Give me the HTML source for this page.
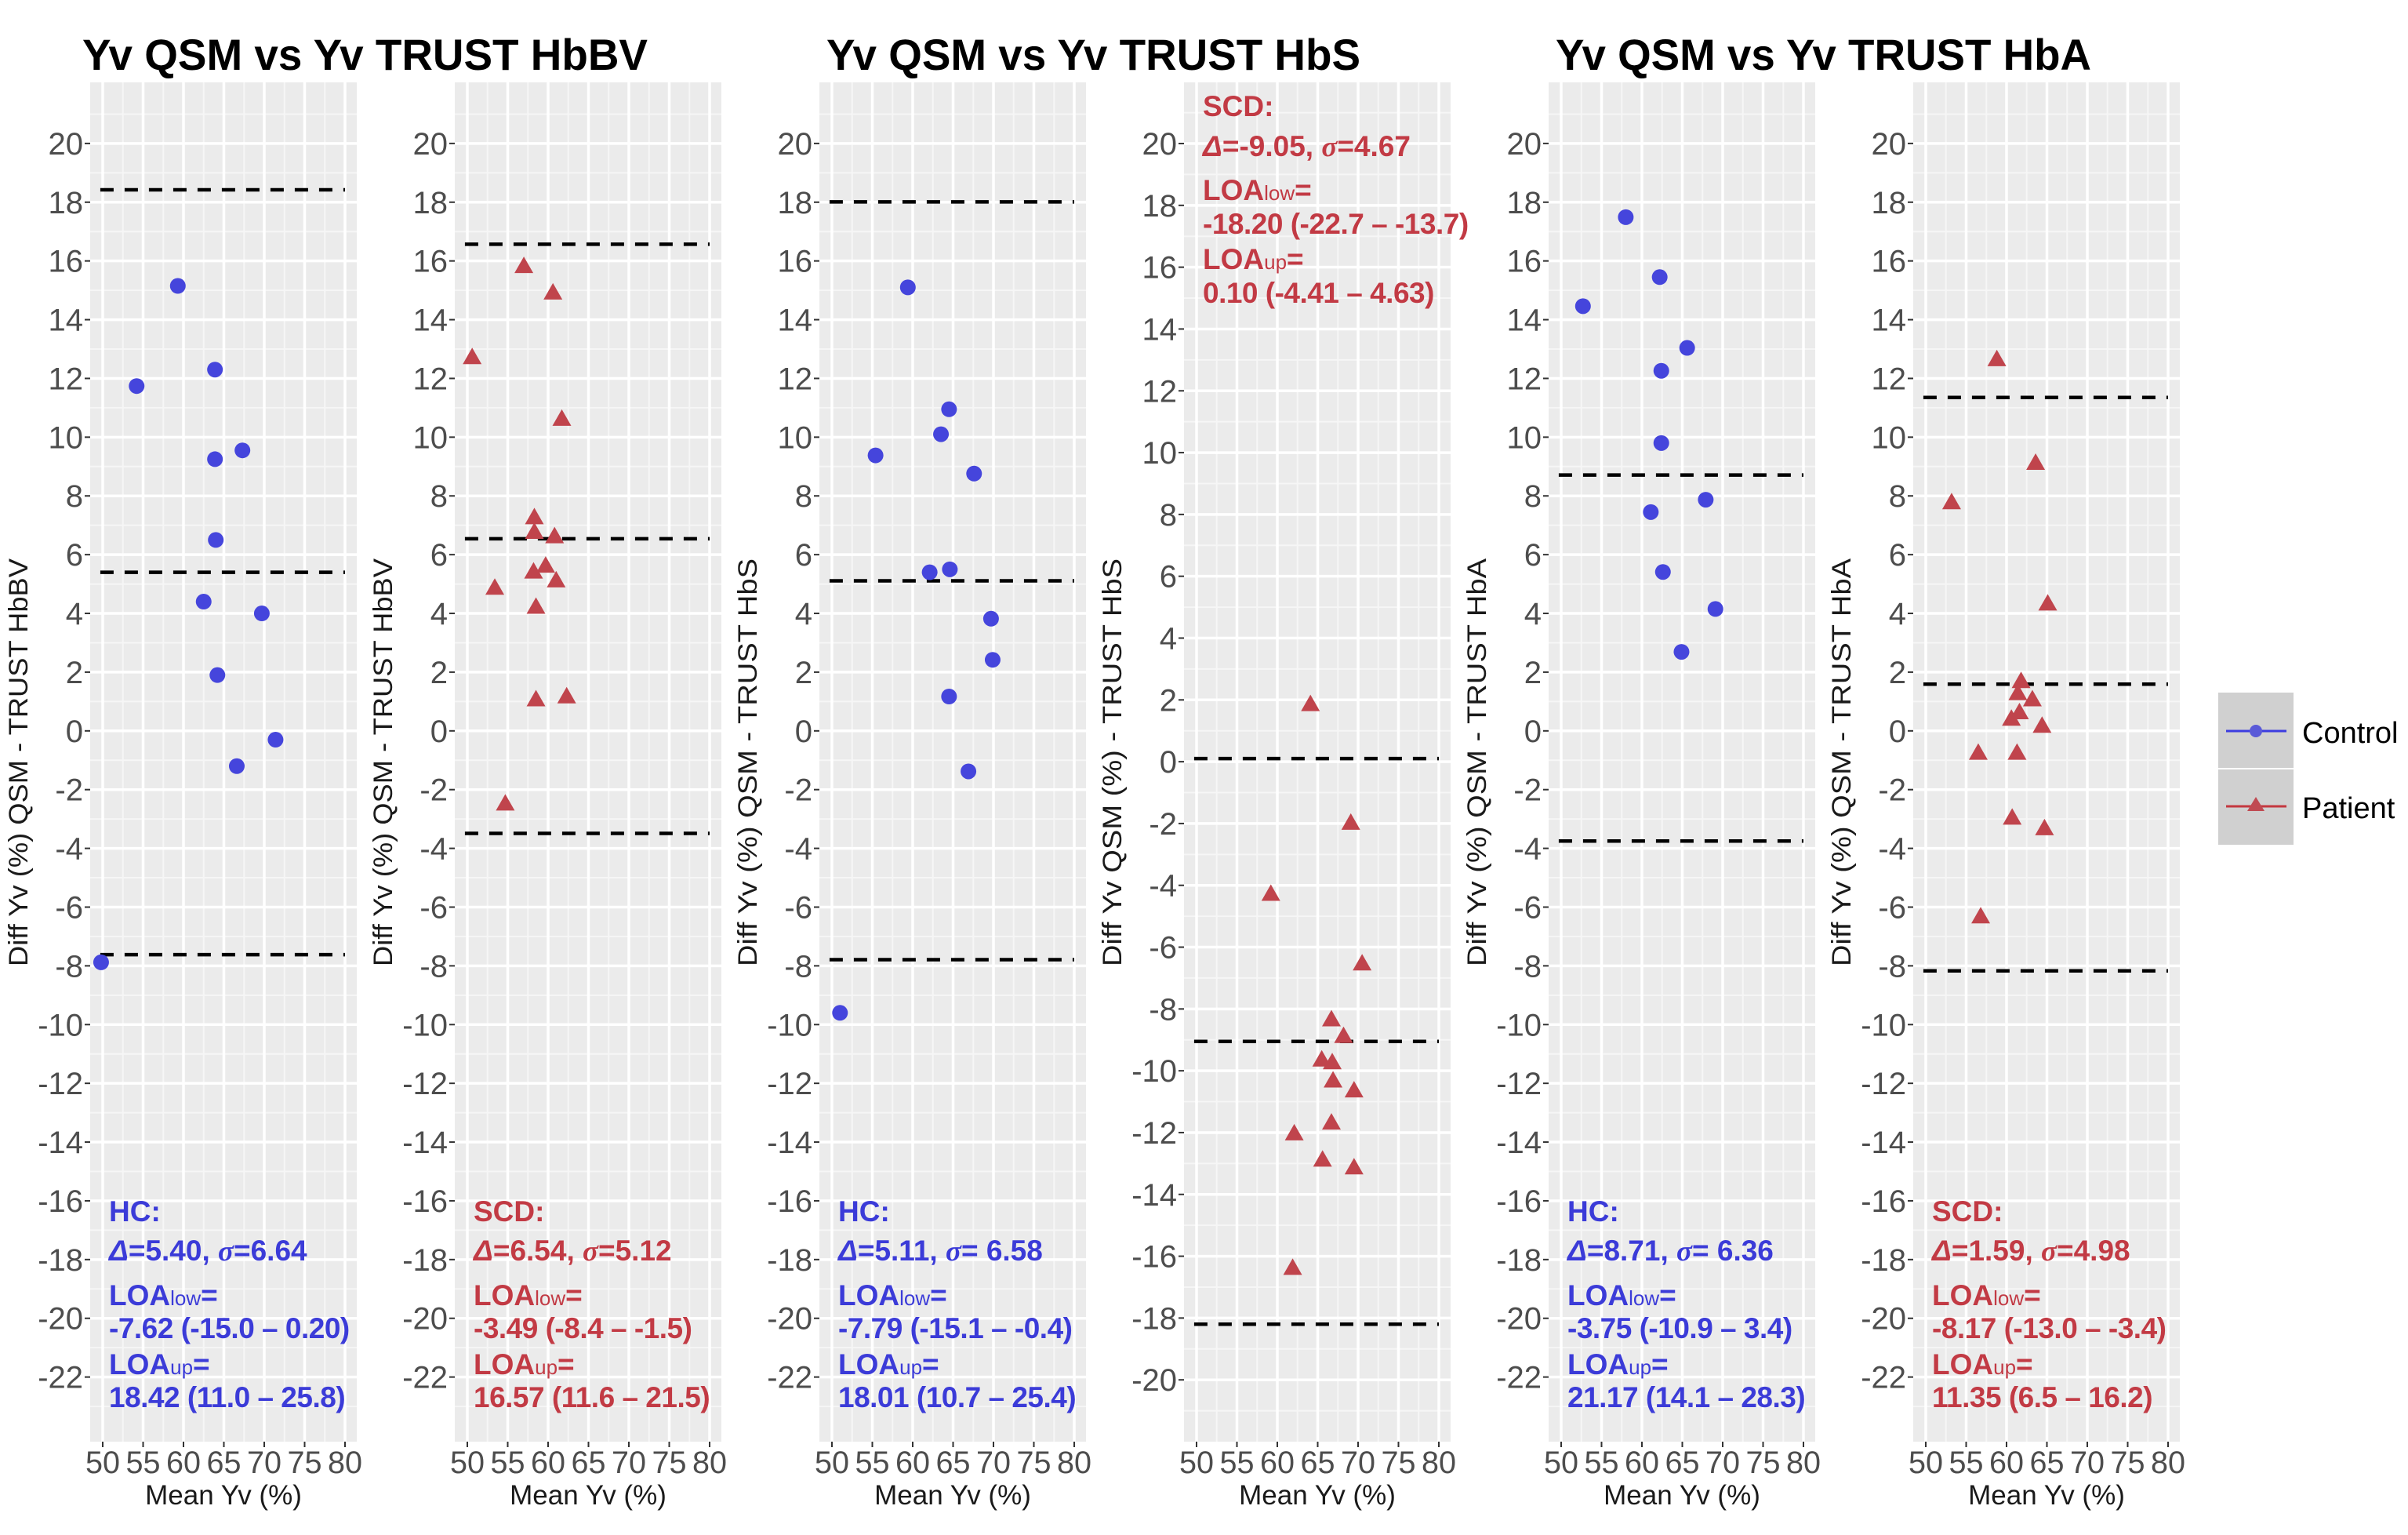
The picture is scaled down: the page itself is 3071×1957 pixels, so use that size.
<!DOCTYPE html>
<html><head><meta charset="utf-8">
<style>
html,body{margin:0;padding:0;background:#fff;}
svg{display:block;font-family:"Liberation Sans",Arial,sans-serif;}
</style></head>
<body>
<svg id="fig" xmlns="http://www.w3.org/2000/svg" width="3071" height="1957" viewBox="0 0 3071 1957">
<rect x="0" y="0" width="3071" height="1957" fill="#fff"/>
<text x="105" y="89" font-size="56" font-weight="bold" textLength="721" lengthAdjust="spacingAndGlyphs">Yv QSM vs Yv TRUST HbBV</text>
<text x="1054" y="89" font-size="56" font-weight="bold" textLength="681" lengthAdjust="spacingAndGlyphs">Yv QSM vs Yv TRUST HbS</text>
<text x="1984" y="89" font-size="56" font-weight="bold" textLength="683" lengthAdjust="spacingAndGlyphs">Yv QSM vs Yv TRUST HbA</text>
<g id="legend">
<rect x="2829" y="883" width="96" height="96" fill="#d0d0d0"/>
<rect x="2829" y="981" width="96" height="96" fill="#d0d0d0"/>
<line x1="2839" y1="932" x2="2916" y2="932" stroke="#3c3ce0" stroke-width="3"/>
<circle cx="2877" cy="932" r="8" fill="#5a5ad8"/>
<line x1="2839" y1="1028" x2="2916" y2="1028" stroke="#c4383f" stroke-width="3"/>
<polygon points="2877,1016 2888,1034 2866,1034" fill="#c04a52"/>
<text x="2936" y="947" font-size="38">Control</text>
<text x="2936" y="1043" font-size="38">Patient</text>
</g>
</svg>
<script>
// ---- data ----
const xTicks = [50,55,60,65,70,75,80];
const yTicksA = [20,18,16,14,12,10,8,6,4,2,0,-2,-4,-6,-8,-10,-12,-14,-16,-18,-20,-22];
const yTicksB = [20,18,16,14,12,10,8,6,4,2,0,-2,-4,-6,-8,-10,-12,-14,-16,-18,-20];

const p1x = [49.8,54.2,59.3,63.9,63.9,67.3,64.0,62.5,69.7,64.2,71.4,66.6];
const p1y = [-7.88,11.74,15.15,12.3,9.25,9.55,6.5,4.4,4.0,1.9,-0.3,-1.2];
const p1lines = [18.42,5.40,-7.62];

const p2x = [50.6,57.0,60.6,61.7,58.3,58.3,60.8,53.4,58.2,59.7,61.0,58.5,58.5,62.3,54.7];
const p2y = [12.7,15.8,14.9,10.6,7.25,6.75,6.6,4.85,5.4,5.6,5.1,4.2,1.05,1.15,-2.5];
const p2lines = [16.57,6.54,-3.49];

const p3x = [51.0,55.4,59.4,63.5,64.5,67.6,62.1,64.6,69.7,69.9,64.5,66.9];
const p3y = [-9.6,9.38,15.1,10.1,10.95,8.76,5.4,5.5,3.82,2.42,1.17,-1.38];
const p3lines = [18.01,5.11,-7.79];

const p4x = [64.1,69.1,59.2,70.5,66.7,68.2,65.5,66.8,66.9,69.5,66.7,62.1,65.6,69.5,61.9];
const p4y = [1.84,-2.0,-4.3,-6.55,-8.36,-8.9,-9.66,-9.75,-10.34,-10.66,-11.7,-12.05,-12.9,-13.15,-16.4];
const p4lines = [0.10,-9.05,-18.20];

const p5x = [52.7,58.0,62.2,62.4,65.6,62.4,61.1,67.9,62.6,69.1,64.9];
const p5y = [14.46,17.49,15.45,12.26,13.04,9.8,7.45,7.87,5.41,4.15,2.69];
const p5lines = [8.71,-3.75];

const p6x = [58.8,53.2,63.6,65.1,61.8,61.4,63.2,61.6,60.6,64.4,56.5,61.3,60.7,64.7,56.8];
const p6y = [12.63,7.76,9.1,4.31,1.67,1.26,1.05,0.61,0.39,0.15,-0.77,-0.77,-2.98,-3.34,-6.34];
const p6lines = [11.35,1.59,-8.17];

const ytitles = ["Diff Yv (%) QSM - TRUST HbBV","Diff Yv (%) QSM - TRUST HbBV","Diff Yv (%) QSM - TRUST HbS","Diff Yv QSM (%) - TRUST HbS","Diff Yv (%) QSM - TRUST HbA","Diff Yv (%) QSM - TRUST HbA"];

const annot1 = ["HC:","5.40","6.64","-7.62 (-15.0 \u2013 0.20)","18.42 (11.0 \u2013 25.8)"];
const annot2 = ["SCD:","6.54","5.12","-3.49 (-8.4 \u2013 -1.5)","16.57 (11.6 \u2013 21.5)"];
const annot3 = ["HC:","5.11"," 6.58","-7.79 (-15.1 \u2013 -0.4)","18.01 (10.7 \u2013 25.4)"];
const annot4 = ["SCD:","-9.05","4.67","-18.20 (-22.7 \u2013 -13.7)","0.10 (-4.41 \u2013 4.63)"];
const annot5 = ["HC:","8.71"," 6.36","-3.75 (-10.9 \u2013 3.4)","21.17 (14.1 \u2013 28.3)"];
const annot6 = ["SCD:","1.59","4.98","-8.17 (-13.0 \u2013 -3.4)","11.35 (6.5 \u2013 16.2)"];

// ---- layout ----
const NS = "http://www.w3.org/2000/svg";
const svg = document.getElementById('fig');
const TOP = 105, BOT = 1838, PW = 340;
const lefts = [115,580,1045,1510,1975,2440];
const BLUE = "#4545dc", RED = "#c0444c", TBLUE = "#3b3bd8", TRED = "#c23a44";

function mk(tag, attrs, parent){
  const e = document.createElementNS(NS, tag);
  for (const k in attrs) e.setAttribute(k, attrs[k]);
  (parent||svg).appendChild(e);
  return e;
}

const panels = [
  {xs:p1x, ys:p1y, lines:p1lines, shape:'circle', dom:[-24.2,22.08], ticks:yTicksA, ann:annot1, annTop:false},
  {xs:p2x, ys:p2y, lines:p2lines, shape:'tri', dom:[-24.2,22.08], ticks:yTicksA, ann:annot2, annTop:false},
  {xs:p3x, ys:p3y, lines:p3lines, shape:'circle', dom:[-24.2,22.08], ticks:yTicksA, ann:annot3, annTop:false},
  {xs:p4x, ys:p4y, lines:p4lines, shape:'tri', dom:[-22.0,21.98], ticks:yTicksB, ann:annot4, annTop:true},
  {xs:p5x, ys:p5y, lines:p5lines, shape:'circle', dom:[-24.2,22.08], ticks:yTicksA, ann:annot5, annTop:false},
  {xs:p6x, ys:p6y, lines:p6lines, shape:'tri', dom:[-24.2,22.08], ticks:yTicksA, ann:annot6, annTop:false}
];

panels.forEach((p, i) => {
  const L = lefts[i];
  const xScale = v => L + 16 + (v - 50) * 10.3;
  const yScale = v => TOP + (p.dom[1] - v) / (p.dom[1] - p.dom[0]) * (BOT - TOP);
  const g = mk('g', {});
  
  
  const bg = mk('rect', {x:L, y:TOP, width:PW, height:BOT-TOP, fill:'#ebebeb'}, g);
  
  
  for (let v = Math.ceil(p.dom[0]); v <= p.dom[1]; v++) {
    if (v % 2 === 0) continue;
    const y = yScale(v);
    const ln = mk('line', {x1:L, x2:L+PW, y1:y, y2:y, stroke:'#f6f6f6', 'stroke-width':2}, g);
    
    
  }
  for (let v = 52.5; v < 81; v += 5) {
    const x = xScale(v);
    const ln = mk('line', {x1:x, x2:x, y1:TOP, y2:BOT, stroke:'#f6f6f6', 'stroke-width':2}, g);
    
    
  }
  p.ticks.forEach(v => {
    const y = yScale(v);
    const ln = mk('line', {x1:L, x2:L+PW, y1:y, y2:y, stroke:'#fff', 'stroke-width':3.5}, g);
    
    
    const tk = mk('line', {x1:L-7, x2:L, y1:y, y2:y, stroke:'#333', 'stroke-width':2}, g);
    
    
    const t = mk('text', {x:L-9, y:y+14, 'font-size':40, fill:'#4d4d4d', 'text-anchor':'end'}, g);
    
    
    t.textContent = v;
  });
  xTicks.forEach(v => {
    const x = xScale(v);
    const ln = mk('line', {x1:x, x2:x, y1:TOP, y2:BOT, stroke:'#fff', 'stroke-width':3.5}, g);
    
    
    const tk = mk('line', {x1:x, x2:x, y1:BOT, y2:BOT+7, stroke:'#333', 'stroke-width':2}, g);
    
    
    const t = mk('text', {x:x, y:BOT+40, 'font-size':40, fill:'#4d4d4d', 'text-anchor':'middle', textLength:44, lengthAdjust:'spacingAndGlyphs'}, g);
    
    
    t.textContent = v;
  });
  p.lines.forEach(v => {
    const y = yScale(v);
    const ln = mk('line', {x1:xScale(49.7), x2:xScale(80), y1:y, y2:y, stroke:'#000', 'stroke-width':4.5, 'stroke-dasharray':'17 14'}, g);
    
    
  });
  p.xs.forEach((xv, k) => {
    const cx = xScale(xv), cy = yScale(p.ys[k]);
    let m;
    if (p.shape === 'circle') {
      m = mk('circle', {cx:cx, cy:cy, r:10, fill:BLUE}, g);
      
    } else {
      m = mk('polygon', {points:`${cx},${cy-13} ${cx+12},${cy+8} ${cx-12},${cy+8}`, fill:RED}, g);
      
    }
    
  });
  const xt = mk('text', {x:L+PW/2, y:1918, 'font-size':35, fill:'#1a1a1a', 'text-anchor':'middle'}, g);
  
  
  xt.textContent = 'Mean Yv (%)';
  const ycx = L - 80, ycy = 972;
  const yt = mk('text', {x:ycx, y:ycy, 'font-size':34, fill:'#1a1a1a', 'text-anchor':'middle', transform:`rotate(-90 ${ycx} ${ycy})`, textLength:520, lengthAdjust:'spacingAndGlyphs'}, g);
  
  
  yt.textContent = ytitles[i];
  const col = (p.shape === 'circle') ? TBLUE : TRED;
  const ax = L + 24;
  const bl = p.annTop ? [148,199,255,298,343,386] : [1557,1607,1664,1706,1752,1794];
  const ag = mk('g', {fill:col, 'font-weight':'bold', 'font-size':37}, g);
  
  
  const a = p.ann;
  const t0 = mk('text', {x:ax, y:bl[0]}, ag); t0.textContent = a[0];
   
  const t1 = mk('text', {x:ax, y:bl[1]}, ag);
   
  t1.innerHTML = `<tspan font-style="italic">\u0394</tspan>=${a[1]}, <tspan font-style="italic" font-family="Liberation Serif, serif">\u03c3</tspan>=${a[2]}`;
  const t2 = mk('text', {x:ax, y:bl[2]}, ag);
   
  t2.innerHTML = 'LOA<tspan font-size="26" font-weight="normal">low</tspan>=';
  const t3 = mk('text', {x:ax, y:bl[3], 'letter-spacing':-0.5}, ag); t3.textContent = a[3];
   
  const t4 = mk('text', {x:ax, y:bl[4]}, ag);
   
  t4.innerHTML = 'LOA<tspan font-size="26" font-weight="normal">up</tspan>=';
  const t5 = mk('text', {x:ax, y:bl[5], 'letter-spacing':-0.5}, ag); t5.textContent = a[4];
   
});
svg.appendChild(document.getElementById('legend'));
</script>
</body></html>
